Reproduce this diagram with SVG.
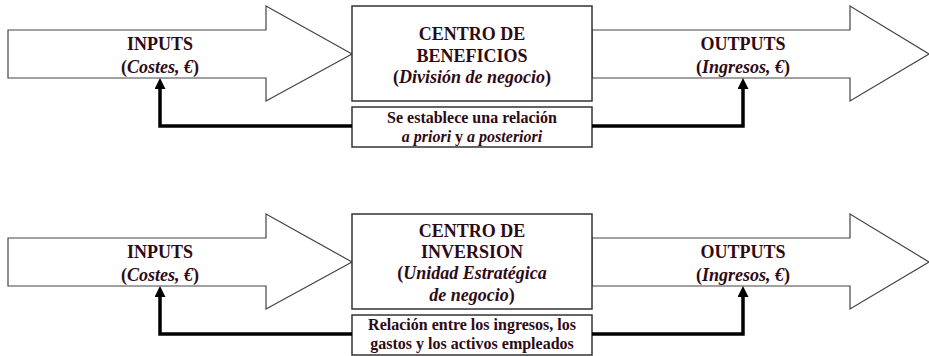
<svg xmlns="http://www.w3.org/2000/svg" width="929" height="356" viewBox="0 0 929 356">
<defs>
<style>
.arr{fill:#fff;stroke:#444;stroke-width:1.2}
.box{fill:#fff;stroke:#333;stroke-width:1.5}
.t{font-family:"Liberation Serif","Times New Roman",serif;font-weight:bold;fill:#2e0a14;text-anchor:middle}
.big{font-size:18px}
.sm{font-size:16px}
.i{font-style:italic}
.con{fill:none;stroke:#000;stroke-width:3.5}
</style>
<marker id="ah" markerUnits="userSpaceOnUse" markerWidth="12" markerHeight="12" refX="0" refY="5.5" orient="auto">
<path d="M0,0 L11,5.5 L0,11 z" fill="#000"/>
</marker>
</defs>
<rect width="929" height="356" fill="#fff"/>

<g id="inputs1">
<polygon class="arr" points="8,30 266,30 266,6 352,54 266,101 266,78 8,78"/>
<text class="t big" x="160" y="50">INPUTS</text>
<text class="t big" x="160" y="73">(<tspan class="i">Costes, €</tspan>)</text>
</g>
<g id="outputs1">
<polygon class="arr" points="592,30 850,30 850,6 929,54 850,101 850,78 592,78"/>
<text class="t big" x="743" y="50">OUTPUTS</text>
<text class="t big" x="743" y="73">(<tspan class="i">Ingresos, €</tspan>)</text>
</g>
<g id="centro1">
<rect class="box" x="352" y="6" width="240" height="95"/>
<text class="t big" x="472" y="40">CENTRO DE</text>
<text class="t big" x="472" y="62">BENEFICIOS</text>
<text class="t big" x="472" y="83">(<tspan class="i">División de negocio</tspan>)</text>
</g>
<g id="rel1">
<rect class="box" x="352" y="107" width="240" height="40"/>
<text class="t sm" x="472" y="123">Se establece una relación</text>
<text class="t sm" x="472" y="142"><tspan class="i">a priori</tspan> y <tspan class="i">a posteriori</tspan></text>
</g>

<g id="inputs2">
<polygon class="arr" points="8,238 266,238 266,214 352,262 266,309 266,286 8,286"/>
<text class="t big" x="160" y="258">INPUTS</text>
<text class="t big" x="160" y="281">(<tspan class="i">Costes, €</tspan>)</text>
</g>
<g id="outputs2">
<polygon class="arr" points="592,238 850,238 850,214 929,262 850,309 850,286 592,286"/>
<text class="t big" x="743" y="258">OUTPUTS</text>
<text class="t big" x="743" y="281">(<tspan class="i">Ingresos, €</tspan>)</text>
</g>
<g id="centro2">
<rect class="box" x="352" y="214" width="240" height="95"/>
<text class="t big" x="472" y="237">CENTRO DE</text>
<text class="t big" x="472" y="258">INVERSION</text>
<text class="t big" x="472" y="279">(<tspan class="i">Unidad Estratégica</tspan></text>
<text class="t big" x="472" y="301"><tspan class="i">de negocio</tspan>)</text>
</g>
<g id="rel2">
<rect class="box" x="352" y="315" width="240" height="40"/>
<text class="t sm" x="472" y="330">Relación entre los ingresos, los</text>
<text class="t sm" x="472" y="349">gastos y los activos empleados</text>
</g>

<g id="connectors">
<path class="con" d="M352,126 H160 V89" marker-end="url(#ah)"/>
<path class="con" d="M592,126 H743 V89" marker-end="url(#ah)"/>
<path class="con" d="M352,334 H160 V297" marker-end="url(#ah)"/>
<path class="con" d="M592,334 H743 V297" marker-end="url(#ah)"/>
</g>
</svg>
